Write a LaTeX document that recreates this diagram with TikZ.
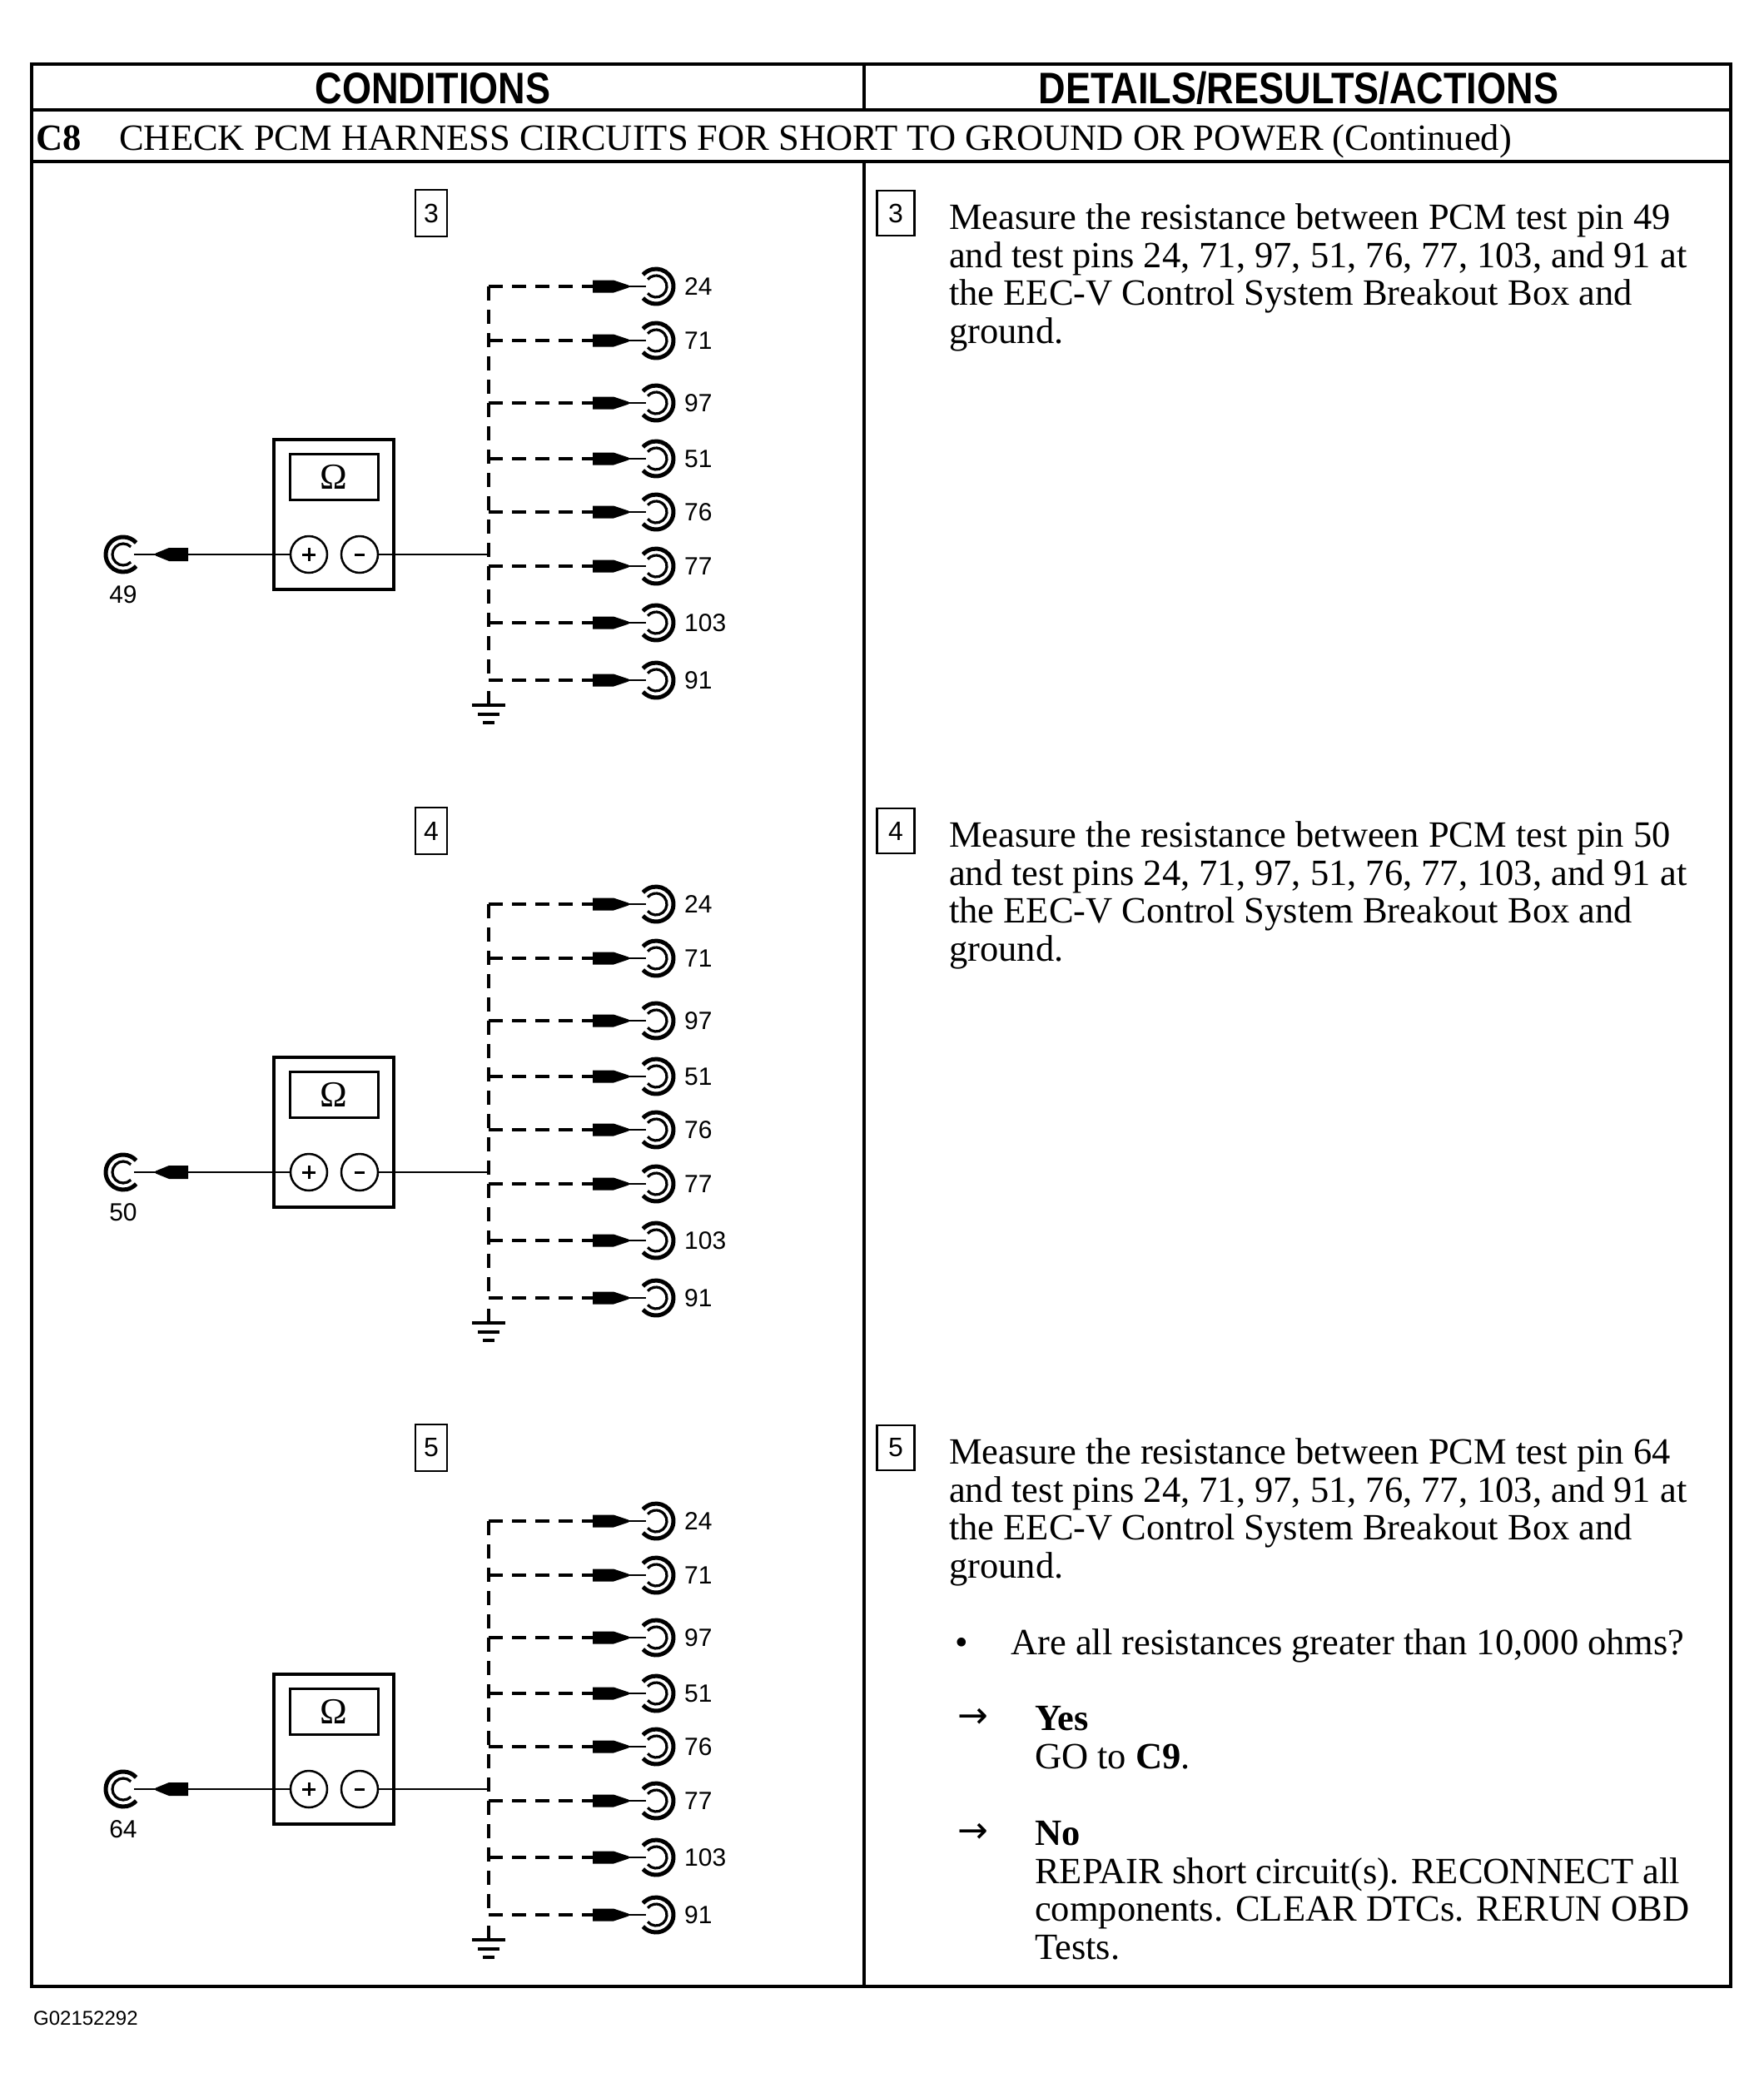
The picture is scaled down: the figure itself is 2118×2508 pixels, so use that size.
\documentclass[tikz,border=0pt]{standalone}
\usepackage{fontspec}
\setmainfont{Liberation Serif}
\setsansfont{Liberation Sans}
\newfontfamily\arrowfont{DejaVu Sans}
\usetikzlibrary{calc}
\tikzset{
  frame/.style={line width=4pt},
  wire/.style={line width=2.6pt},
  busline/.style={line width=4pt, dash pattern=on 17pt off 11pt},
  gnd/.style={line width=4pt},
  jackouter/.style={line width=5pt},
  jackinner/.style={line width=3.2pt},
  lstep/.style={draw, line width=2.5pt, minimum width=38pt, minimum height=56pt, inner sep=0pt, font=\sffamily\fontsize{32}{32}\selectfont},
  rstep/.style={lstep, minimum width=45pt, minimum height=54pt},
  pinlbl/.style={inner sep=0pt, font=\sffamily\fontsize{30}{30}\selectfont},
  body/.style={inner sep=0pt, anchor=base west, font=\fontsize{44.5}{46}\selectfont},
  arr/.style={inner sep=0pt, anchor=west, font=\arrowfont\fontsize{44}{44}\selectfont},
  headtxt/.style={inner sep=0pt, anchor=base, font=\sffamily\bfseries\fontsize{53}{53}\selectfont},
  meterbox/.style={draw, line width=4pt, minimum width=144pt, minimum height=180pt, inner sep=0pt},
  dispbox/.style={draw, line width=3pt, minimum width=106pt, minimum height=55pt, inner sep=0pt, font=\fontsize{44}{44}\selectfont},
  term/.style={circle, draw, line width=2.5pt, minimum size=44pt, inner sep=0pt},
}
\newcommand{\measpanel}[3]{%
\begin{scope}[shift={(0,#1)}]
  \node[lstep] (ls#3) at (518,256) {#3};
  \node[meterbox] (mb#3) at (401,618) {};
  \node[dispbox] (db#3) at (401,573) {Ω};
  \node[term] (tp#3) at (371,666) {};
  \node[term] (tm#3) at (432,666) {};
  \draw[line width=3pt] (363,666) -- (379,666) (371,658) -- (371,674);
  \draw[line width=3pt] (426,666) -- (438,666);
  \coordinate (jk#3) at (148,666);
  \draw[jackouter] (jk#3) ++(42:21pt) arc[start angle=42, end angle=318, radius=21pt];
  \draw[jackinner] (jk#3) ++(45:13pt) arc[start angle=45, end angle=315, radius=13pt];
  \node[pinlbl] (jl#3) at (148,714) {#2};
  \coordinate (pl#3) at (226,666);
  \coordinate (pn#3) at (187,666);
  \fill (226,658) -- (203,658) -- (187,664.5) -- (187,667.5) -- (203,674) -- (226,674) -- cycle;
  \draw[wire] (pn#3) -- (161,666);
  \draw[wire] (tp#3.west) -- (pl#3);
  \coordinate (bj#3) at (587,666);
  \draw[wire] (tm#3.east) -- (bj#3);
  \coordinate (bt#3) at (587,344);
  \coordinate (bb#3) at (587,817);
  \draw[busline] (bt#3) -- (bb#3);
  \foreach \yy/\lbl [count=\k] in {344/24,409/71,484/97,551/51,615/76,680/77,748/103,817/91} {
    \draw[busline] (587,\yy) -- (712,\yy);
    \fill (712,\yy-7.5) -- (737,\yy-7.5) -- (755,\yy-1.5) -- (755,\yy+1.5) -- (737,\yy+7.5) -- (712,\yy+7.5) -- cycle;
    \draw[wire] (755,\yy) -- (776,\yy);
    \draw[jackouter] (788,\yy) ++(-138:21pt) arc[start angle=-138, end angle=138, radius=21pt];
    \draw[jackinner] (788,\yy) ++(-140:13pt) arc[start angle=-140, end angle=140, radius=13pt];
    \node[pinlbl, anchor=west] (p#3-\k) at (822,\yy) {\lbl};
  }
  \coordinate (g#3) at (587,830);
  \draw[gnd] (g#3) -- (587,847);
  \draw[gnd] (567,847) -- (607,847) (574,858) -- (600,858) (580,868) -- (594,868);
\end{scope}}
\newcommand{\stepblock}[3]{%
\begin{scope}[shift={(0,#1)}]
  \node[rstep] (rs#3) at (1076,256) {#3};
  \node[body] (ta#3) at (1140,275) {Measure the resistance between PCM test pin #2};
  \node[body] (tb#3) at (1140,321) {and test pins 24, 71, 97, 51, 76, 77, 103, and 91 at};
  \node[body] (tc#3) at (1140,366) {the EEC-V Control System Breakout Box and};
  \node[body] (td#3) at (1140,412) {ground.};
\end{scope}}
\begin{document}
\begin{tikzpicture}[x=1pt,y=-1pt]
  \useasboundingbox (0,0) rectangle (2118,2508);
  \fill[white] (0,0) rectangle (2118,2508);
  % frame
  \draw[frame] (38,77) rectangle (2079,2386);
  \draw[frame] (38,132) -- (2079,132);
  \draw[frame] (38,194) -- (2079,194);
  \draw[frame] (1038,77) -- (1038,132);
  \draw[frame] (1038,194) -- (1038,2386);
  % headers
  \node[headtxt] (hc) at (520,124) {\scalebox{0.85}[1]{CONDITIONS}};
  \node[headtxt] (hd) at (1560,124) {\scalebox{0.85}[1]{DETAILS/RESULTS/ACTIONS}};
  \node[body] (c8) at (43,180) {\textbf{C8}};
  \node[body] (c8t) at (143,180) {CHECK PCM HARNESS CIRCUITS FOR SHORT TO GROUND OR POWER (Continued)};
  % panels
  \measpanel{0}{49}{3}
  \measpanel{742}{50}{4}
  \measpanel{1483}{64}{5}
  \stepblock{0}{49}{3}
  \stepblock{742}{50}{4}
  \stepblock{1483}{64}{5}
  % questions
  \node[body, anchor=base] (bul) at (1155,1987) {•};
  \node[body] (q) at (1214,1987) {Are all resistances greater than 10,000 ohms?};
  \node[arr] (ay) at (1150,2064) {→};
  \node[body] (yes) at (1243,2078) {\textbf{Yes}};
  \node[body] (go) at (1243,2124) {GO to \textbf{C9}.};
  \node[arr] (an) at (1150,2202) {→};
  \node[body] (no) at (1243,2216) {\textbf{No}};
  \node[body] (r1) at (1243,2262) {REPAIR short circuit(s). RECONNECT all};
  \node[body] (r2) at (1243,2307) {components. CLEAR DTCs. RERUN OBD};
  \node[body] (r3) at (1243,2353) {Tests.};
  % footer
  \node[inner sep=0pt, anchor=base west, font=\sffamily\fontsize{24}{24}\selectfont] (ft) at (40,2432) {G02152292};
\end{tikzpicture}
\end{document}
